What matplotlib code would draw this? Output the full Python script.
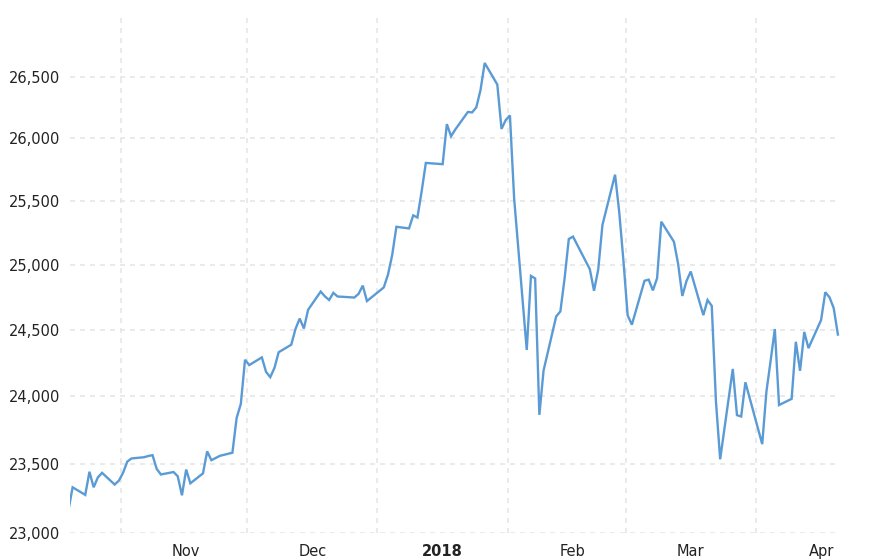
import matplotlib
matplotlib.use("Agg")
import matplotlib.pyplot as plt
import matplotlib.dates as mdates
import matplotlib.ticker as mticker
import pandas as pd

# Daily closes (Oct 2017 - Apr 2018)
dates = [
    "2017-10-19", "2017-10-20", "2017-10-23", "2017-10-24", "2017-10-25", "2017-10-26",
    "2017-10-27", "2017-10-30", "2017-10-31",
    "2017-11-01", "2017-11-02", "2017-11-03", "2017-11-06", "2017-11-07", "2017-11-08",
    "2017-11-09", "2017-11-10", "2017-11-13", "2017-11-14", "2017-11-15", "2017-11-16",
    "2017-11-17", "2017-11-20", "2017-11-21", "2017-11-22", "2017-11-24", "2017-11-27",
    "2017-11-28", "2017-11-29", "2017-11-30",
    "2017-12-01", "2017-12-04", "2017-12-05", "2017-12-06", "2017-12-07", "2017-12-08",
    "2017-12-11", "2017-12-12", "2017-12-13", "2017-12-14", "2017-12-15", "2017-12-18",
    "2017-12-19", "2017-12-20", "2017-12-21", "2017-12-22", "2017-12-26", "2017-12-27",
    "2017-12-28", "2017-12-29",
    "2018-01-02", "2018-01-03", "2018-01-04", "2018-01-05", "2018-01-08", "2018-01-09",
    "2018-01-10", "2018-01-11", "2018-01-12", "2018-01-16", "2018-01-17", "2018-01-18",
    "2018-01-19", "2018-01-22", "2018-01-23", "2018-01-24", "2018-01-25", "2018-01-26",
    "2018-01-29", "2018-01-30", "2018-01-31",
    "2018-02-01", "2018-02-02", "2018-02-05", "2018-02-06", "2018-02-07", "2018-02-08",
    "2018-02-09", "2018-02-12", "2018-02-13", "2018-02-14", "2018-02-15", "2018-02-16",
    "2018-02-20", "2018-02-21", "2018-02-22", "2018-02-23", "2018-02-26", "2018-02-27",
    "2018-02-28",
    "2018-03-01", "2018-03-02", "2018-03-05", "2018-03-06", "2018-03-07", "2018-03-08",
    "2018-03-09", "2018-03-12", "2018-03-13", "2018-03-14", "2018-03-15", "2018-03-16",
    "2018-03-19", "2018-03-20", "2018-03-21", "2018-03-22", "2018-03-23", "2018-03-26",
    "2018-03-27", "2018-03-28", "2018-03-29",
    "2018-04-02", "2018-04-03", "2018-04-04", "2018-04-05", "2018-04-06", "2018-04-09",
    "2018-04-10", "2018-04-11", "2018-04-12", "2018-04-13", "2018-04-16", "2018-04-17",
    "2018-04-18", "2018-04-19", "2018-04-20",
]
closes = [
    23163, 23329, 23274, 23442, 23329, 23401,
    23434, 23349, 23377,
    23435, 23516, 23539, 23548, 23557, 23563,
    23462, 23422, 23440, 23409, 23271, 23458,
    23358, 23430, 23591, 23526, 23558, 23581,
    23837, 23941, 24272,
    24232, 24290, 24181, 24141, 24211, 24329,
    24386, 24505, 24585, 24509, 24652, 24792,
    24755, 24727, 24782, 24754, 24746, 24774,
    24838, 24719,
    24824, 24923, 25075, 25296, 25283, 25386,
    25369, 25575, 25803, 25793, 26116, 26018,
    26072, 26215, 26211, 26252, 26393, 26617,
    26439, 26077, 26149,
    26187, 25521, 24346, 24913, 24893, 23860,
    24191, 24601, 24640, 24893, 25200, 25219,
    24965, 24798, 24962, 25310, 25709, 25410,
    25029,
    24609, 24538, 24875, 24884, 24801, 24895,
    25336, 25179, 25007, 24758, 24874, 24947,
    24611, 24727, 24682, 23958, 23533, 24203,
    23858, 23848, 24103,
    23644, 24033, 24264, 24505, 23933, 23979,
    24408, 24189, 24483, 24360, 24573, 24787,
    24748, 24665, 24463,
]
y_ticks = [23000, 23500, 24000, 24500, 25000, 25500, 26000, 26500]
month_starts = ["2017-11-01", "2017-12-01", "2018-01-01", "2018-02-01", "2018-03-01", "2018-04-01"]
month_labels = ["Nov", "Dec", "2018", "Feb", "Mar", "Apr"]

x = pd.to_datetime(dates) + pd.Timedelta(hours=12)
starts = pd.to_datetime(month_starts)
label_pos = starts + pd.Timedelta(days=15, hours=12)

fig = plt.figure(figsize=(8.88, 5.6), dpi=100)
ax = fig.add_axes([70 / 888, 27 / 560, 770 / 888, 516 / 560])

ax.plot(x, closes, color="#5b9bd5", linewidth=1.7, solid_joinstyle="miter")

ax.set_yscale("log")
ax.set_ylim(23000, 27000)
ax.set_xlim(pd.Timestamp("2017-10-19 21:00"), pd.Timestamp("2018-04-21"))

ax.yaxis.set_major_locator(mticker.FixedLocator(y_ticks))
ax.yaxis.set_major_formatter(mticker.FuncFormatter(lambda v, p: f"{int(round(v)):,}"))
ax.yaxis.set_minor_locator(mticker.NullLocator())

ax.xaxis.set_major_locator(mticker.FixedLocator(mdates.date2num(starts)))
ax.xaxis.set_major_formatter(mticker.NullFormatter())
ax.xaxis.set_minor_locator(mticker.FixedLocator(mdates.date2num(label_pos)))
ax.xaxis.set_minor_formatter(mticker.FixedFormatter(month_labels))

grid_kw = dict(color="#e6e6e6", linestyle=(0, (3, 3)), linewidth=1.2)
ax.grid(True, which="major", axis="both", **grid_kw)
ax.set_axisbelow(True)

for s in ax.spines.values():
    s.set_visible(False)

ax.tick_params(axis="both", which="both", length=0, labelsize=10.5, labelcolor="#222222")
ax.tick_params(axis="y", pad=7)
ax.tick_params(axis="x", which="minor", pad=8)
for lbl in ax.xaxis.get_minorticklabels():
    if lbl.get_text() == "2018":
        lbl.set_fontweight("bold")

fig.savefig("out.png", dpi=100)
